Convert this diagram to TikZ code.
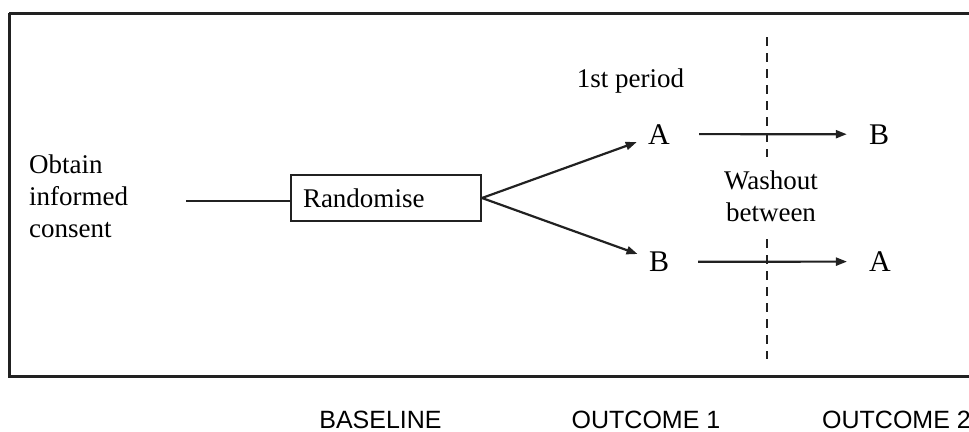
\documentclass[tikz,border=0pt]{standalone}
\usepackage{fontspec}
\setmainfont{Liberation Serif}
\newfontfamily\stagefont{Liberation Sans}
\usepackage{xcolor}
\usepackage{tikz}
\usetikzlibrary{arrows.meta,positioning}
\definecolor{ink}{gray}{0.13}
\begin{document}
\begin{tikzpicture}[line cap=butt,line join=miter,>={Triangle[length=11bp,width=8bp]},x=1bp,y=-1bp,
  txt/.style={inner sep=0pt,font=\fontsize{27bp}{32bp}\selectfont},
  arm/.style={inner sep=0pt,font=\fontsize{30bp}{36bp}\selectfont},
  stage/.style={inner sep=0pt,anchor=base,font=\stagefont\fontsize{25bp}{30bp}\selectfont},
  conn/.style={draw=ink,line width=2.2bp}]
\useasboundingbox (0,0) rectangle (969,431);
\draw[ink,line width=3bp] (9,13) -- (980,13) (9,13) -- (9,376) -- (980,376);
\node[txt,anchor=west,align=left] (consent) at (29,196) {Obtain\\informed\\consent};
\node[txt,draw=ink,line width=2bp,minimum width=190bp,minimum height=46bp,inner xsep=12bp,text width=166bp,align=left] (rand) at (386,198) {Randomise};
\coordinate (cstart) at (186,201);
\node[arm,anchor=base] (A1) at (659,144) {A};
\node[arm,anchor=base] (B1) at (659,271.5) {B};
\node[arm,anchor=base] (B2) at (879,144) {B};
\node[arm,anchor=base] (A2) at (880,271.5) {A};
\node[txt,anchor=base] (period) at (630.5,87) {1st period};
\node[txt,align=center] (washout) at (771,196) {Washout\\between};
\draw[conn] (cstart) -- (cstart -| rand.west);
\draw[conn,->,shorten >=12bp] (rand.east) -- (A1);
\draw[conn,->,shorten >=12bp] (rand.east) -- (B1);
\draw[conn,->,shorten <=29bp,shorten >=22bp] (A1) -- (B2);
\draw[conn,->,shorten <=29bp,shorten >=22bp] (B1) -- (A2);
\draw[ink,line width=2.2bp,dash pattern=on 9bp off 7bp] (767,37) -- (767,157) (767,239) -- (767,359);
\node[stage] (base) at (380.5,428.5) {BASELINE};
\node[stage] (out1) at (646,428.5) {OUTCOME 1};
\node[stage,anchor=base west] (out2) at (822,428.5) {OUTCOME 2};
\end{tikzpicture}
\end{document}
